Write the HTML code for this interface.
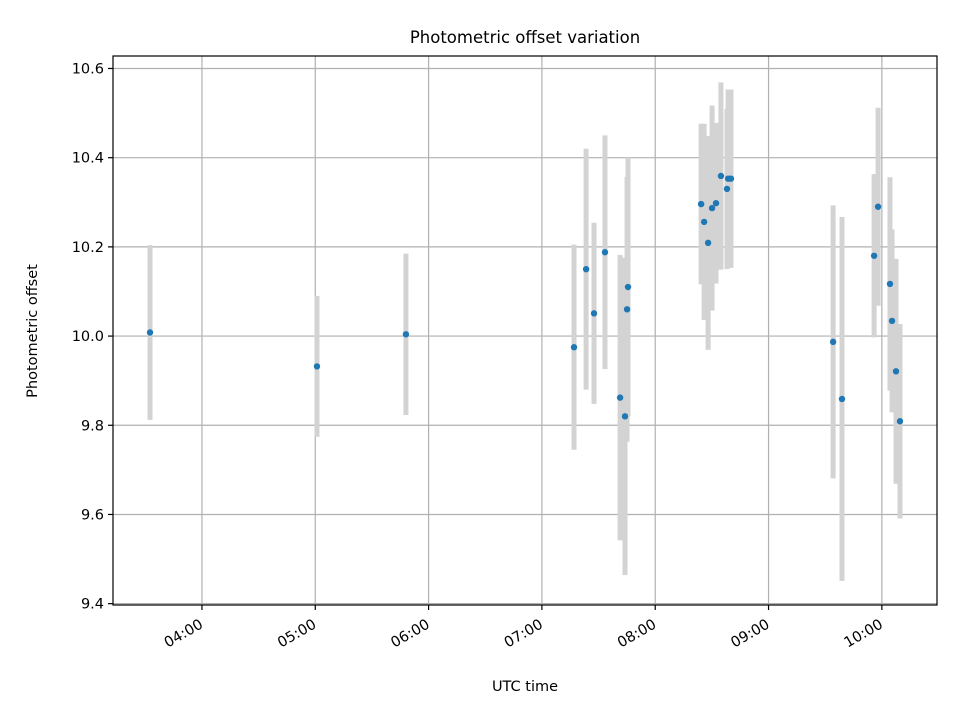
<!DOCTYPE html>
<html><head><meta charset="utf-8"><style>
html,body{margin:0;padding:0;background:#fff;}
svg text{font-family:"DejaVu Sans","Liberation Sans",sans-serif;fill:#000;}
</style></head><body>
<svg id="chart" width="960" height="720" xmlns="http://www.w3.org/2000/svg">
<rect width="960" height="720" fill="#fff"/>
<g id="grid"></g>
<g id="errs"></g>
<g id="pts"></g>
<rect x="113" y="56" width="824" height="549" fill="none" stroke="#000" stroke-width="1.2"/>
<g id="axes"></g>
<text x="525" y="43" font-size="16.5" text-anchor="middle">Photometric offset variation</text>
<text x="525" y="691" font-size="14.5" text-anchor="middle">UTC time</text>
<text x="0" y="0" font-size="14.5" text-anchor="middle" transform="translate(37,331) rotate(-90)">Photometric offset</text>
</svg>
<script>
const times = ["03:32:30","05:00:54","05:48:00","07:17:00","07:23:24","07:27:36","07:33:24","07:41:24","07:44:00","07:45:06","07:45:36","08:24:18","08:25:54","08:28:00","08:30:06","08:32:12","08:34:48","08:38:00","08:38:36","08:40:06","09:34:12","09:38:54","09:55:54","09:58:00","10:04:18","10:05:24","10:07:30","10:09:36"];
const offsets = [10.008,9.932,10.004,9.975,10.150,10.051,10.188,9.862,9.820,10.060,10.110,10.296,10.256,10.209,10.287,10.298,10.359,10.330,10.353,10.353,9.987,9.859,10.180,10.290,10.117,10.034,9.921,9.809];
const errors = [0.196,0.158,0.181,0.230,0.270,0.203,0.262,0.320,0.356,0.297,0.290,0.180,0.220,0.240,0.230,0.180,0.210,0.180,0.200,0.200,0.306,0.408,0.183,0.222,0.239,0.205,0.252,0.218];
const xTickLabels = ["04:00","05:00","06:00","07:00","08:00","09:00","10:00"];
const yTickLabels = ["9.4","9.6","9.8","10.0","10.2","10.4","10.6"];

const NS="http://www.w3.org/2000/svg";
const L=113,R=937,T=56,B=605;
const xMin=-47.1,xMax=389.2; // minutes since 04:00
const yMin=9.397,yMax=10.628;
function toMin(s){const p=s.split(":").map(Number);return (p[0]-4)*60+p[1]+(p[2]||0)/60;}
function sx(m){return L+(m-xMin)/(xMax-xMin)*(R-L);}
function sy(v){return B-(v-yMin)/(yMax-yMin)*(B-T);}
function mk(tag,attrs,parent){const e=document.createElementNS(NS,tag);for(const k in attrs)e.setAttribute(k,attrs[k]);parent.appendChild(e);return e;}
const grid=document.getElementById("grid"),axes=document.getElementById("axes"),errs=document.getElementById("errs"),pts=document.getElementById("pts");

xTickLabels.forEach(lab=>{
  const x=sx(toMin(lab));
  const g=mk("line",{x1:x,x2:x,y1:T,y2:B,stroke:"#b0b0b0","stroke-width":1.2},grid);
  
  
  const t=mk("line",{x1:x,x2:x,y1:B,y2:B+5,stroke:"#000","stroke-width":1.2},axes);
  
  
  const ax=x+2, ay=B+22;
  const tx=mk("text",{x:ax,y:ay,"font-size":14.5,"text-anchor":"end",transform:`rotate(-30 ${ax} ${ay})`},axes);
  tx.textContent=lab;
  
  
});
yTickLabels.forEach(lab=>{
  const y=sy(parseFloat(lab));
  const g=mk("line",{x1:L,x2:R,y1:y,y2:y,stroke:"#b0b0b0","stroke-width":1.2},grid);
  
  
  const t=mk("line",{x1:L-5,x2:L,y1:y,y2:y,stroke:"#000","stroke-width":1.2},axes);
  
  
  const tx=mk("text",{x:L-9,y:y+5,"font-size":14.5,"text-anchor":"end"},axes);
  tx.textContent=lab;
  
  
});
times.forEach((tm,i)=>{
  const x=sx(toMin(tm));
  const e=mk("line",{x1:x,x2:x,y1:sy(offsets[i]+errors[i]),y2:sy(offsets[i]-errors[i]),stroke:"#d3d3d3","stroke-width":5},errs);
  
  
});
times.forEach((tm,i)=>{
  const c=mk("circle",{cx:sx(toMin(tm)),cy:sy(offsets[i]),r:3.2,fill:"#1f77b4"},pts);
  
  
});
</script>
</body></html>
